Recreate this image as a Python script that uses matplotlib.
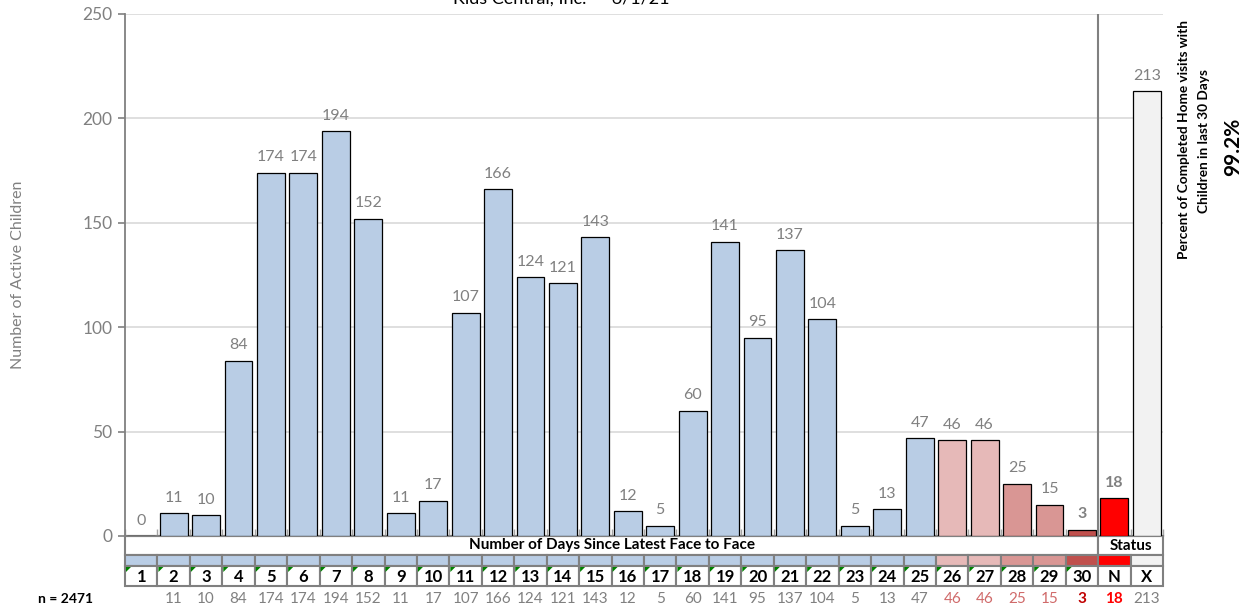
import matplotlib
matplotlib.use('Agg')
import matplotlib.pyplot as plt
from matplotlib.patches import Rectangle, Polygon
from matplotlib.transforms import blended_transform_factory
import numpy as np

# ---------------- data ----------------
categories = [str(i) for i in range(1, 31)] + ['N', 'X']
counts = [0, 11, 10, 84, 174, 174, 194, 152, 11, 17, 107, 166, 124, 121, 143,
          12, 5, 60, 141, 95, 137, 104, 5, 13, 47, 46, 46, 25, 15, 3, 18, 213]
bar_colors = (['#B9CDE5'] * 25 + ['#E6B9B8'] * 2 + ['#D99694'] * 2 +
              ['#C0504D'] + ['#FF0000'] + ['#F2F2F2'])
count_colors = (['#808080'] * 25 + ['#D06A6A'] * 4 + ['#C00000'] +
                ['#FF0000'] + ['#808080'])
count_bold = [False] * 29 + [True, True, False]
bar_label_bold = [False] * 29 + [True, True, False]
title = 'Kids Central, Inc.  -  6/1/21'
n_text = 'n = 2471'
side_line1 = 'Percent of Completed Home visits with'
side_line2 = 'Children in last 30 Days'
side_pct = '99.2%'
days_header = 'Number of Days Since Latest Face to Face'
status_header = 'Status'
y_label = 'Number of Active Children'
y_ticks = [0, 50, 100, 150, 200, 250]

# ---------------- layout ----------------
plt.rcParams['font.family'] = ['Lato', 'DejaVu Sans']
W, H = 1247, 609
GRAY = '#808080'


def fy(p):
    return 1 - p / H


fig = plt.figure(figsize=(W / 100, H / 100), dpi=100)
ax = fig.add_axes([125 / W, fy(536), (1163 - 125) / W, (536 - 14) / H])

x = np.arange(len(categories))
bars = ax.bar(x, counts, width=0.86, color=bar_colors, edgecolor='black',
              linewidth=0.9, zorder=3)
for xi, v, b in zip(x, counts, bar_label_bold):
    ax.annotate(str(v), (xi, v), xytext=(0, 6), textcoords='offset points',
                ha='center', va='bottom', color=GRAY, fontsize=11.5,
                fontweight='bold' if b else 'normal')

ax.set_xlim(-0.5, len(categories) - 0.5)
ax.set_ylim(0, 250)
ax.set_yticks(y_ticks)
ax.yaxis.grid(True, color='#D9D9D9', linewidth=1.2, zorder=0)
ax.set_axisbelow(True)
ax.tick_params(axis='y', colors=GRAY, labelsize=12.5, length=5, width=1.2,
               labelcolor=GRAY, pad=4)
ax.set_xticks([])
ax.set_xticks(np.arange(-0.5, len(categories), 1), minor=True)
ax.tick_params(axis='x', which='minor', direction='in', length=5,
               color='#A6A6A6', width=1.0)
for s in ['top', 'right']:
    ax.spines[s].set_visible(False)
ax.spines['left'].set_color(GRAY)
ax.spines['left'].set_linewidth(1.3)
ax.spines['bottom'].set_color(GRAY)
ax.spines['bottom'].set_linewidth(1.5)

# vertical separator between day 30 and status
ax.axvline(29.5, color=GRAY, linewidth=1.5, zorder=4)

# ---------------- table below ----------------
tr = blended_transform_factory(ax.transData, fig.transFigure)
ncat = len(categories)
# header row
ax.add_patch(Rectangle((-0.5, fy(555)), 30, fy(536) - fy(555), transform=tr,
                       facecolor='white', edgecolor=GRAY, linewidth=1.5,
                       clip_on=False))
ax.add_patch(Rectangle((29.5, fy(555)), 2, fy(536) - fy(555), transform=tr,
                       facecolor='white', edgecolor=GRAY, linewidth=1.5,
                       clip_on=False))
ax.text(14.5, fy(545.5), days_header, transform=tr, ha='center', va='center',
        fontsize=11, fontweight='bold', color='black')
ax.text(30.5, fy(545.5), status_header, transform=tr, ha='center',
        va='center', fontsize=11, fontweight='bold', color='black')

tri_w = 5 / (1038 / ncat)
for i, cat in enumerate(categories):
    ax.add_patch(Rectangle((i - 0.5, fy(566)), 1, fy(555) - fy(566),
                           transform=tr, facecolor=bar_colors[i],
                           edgecolor=GRAY, linewidth=1.5, clip_on=False))
    ax.add_patch(Rectangle((i - 0.5, fy(586)), 1, fy(566) - fy(586),
                           transform=tr, facecolor='white', edgecolor=GRAY,
                           linewidth=1.5, clip_on=False))
    if i < 30:
        ax.add_patch(Polygon([(i - 0.5 + 0.03, fy(567)),
                              (i - 0.5 + 0.03 + tri_w, fy(567)),
                              (i - 0.5 + 0.03, fy(572))],
                             closed=True, transform=tr, facecolor='#008000',
                             edgecolor='none', clip_on=False, zorder=5))
    ax.text(i, fy(576.5), cat, transform=tr, ha='center', va='center',
            fontsize=12, fontweight='bold', color='black')
    if counts[i] != 0:
        ax.text(i, fy(599), str(counts[i]), transform=tr, ha='center',
                va='center', fontsize=11, color=count_colors[i],
                fontweight='bold' if count_bold[i] else 'normal')

fig.text(66 / W, fy(599), n_text, ha='center', va='center', fontsize=10,
         fontweight='bold', color='black')

# ---------------- titles / side texts ----------------
fig.text(561 / W, fy(4), title, ha='center', va='baseline', fontsize=13,
         color='black')
fig.text(18 / W, fy(275), y_label, rotation=90, ha='center', va='center',
         fontsize=11.5, color=GRAY)
fig.text(1184 / W, fy(139), side_line1, rotation=90, ha='center', va='center',
         fontsize=9.8, fontweight='bold', color='black')
fig.text(1204 / W, fy(141), side_line2, rotation=90, ha='center', va='center',
         fontsize=9.8, fontweight='bold', color='black')
fig.text(1233 / W, fy(147), side_pct, rotation=90, ha='center', va='center',
         fontsize=15, fontweight='bold', color='black')

fig.savefig('out.png', dpi=100)
